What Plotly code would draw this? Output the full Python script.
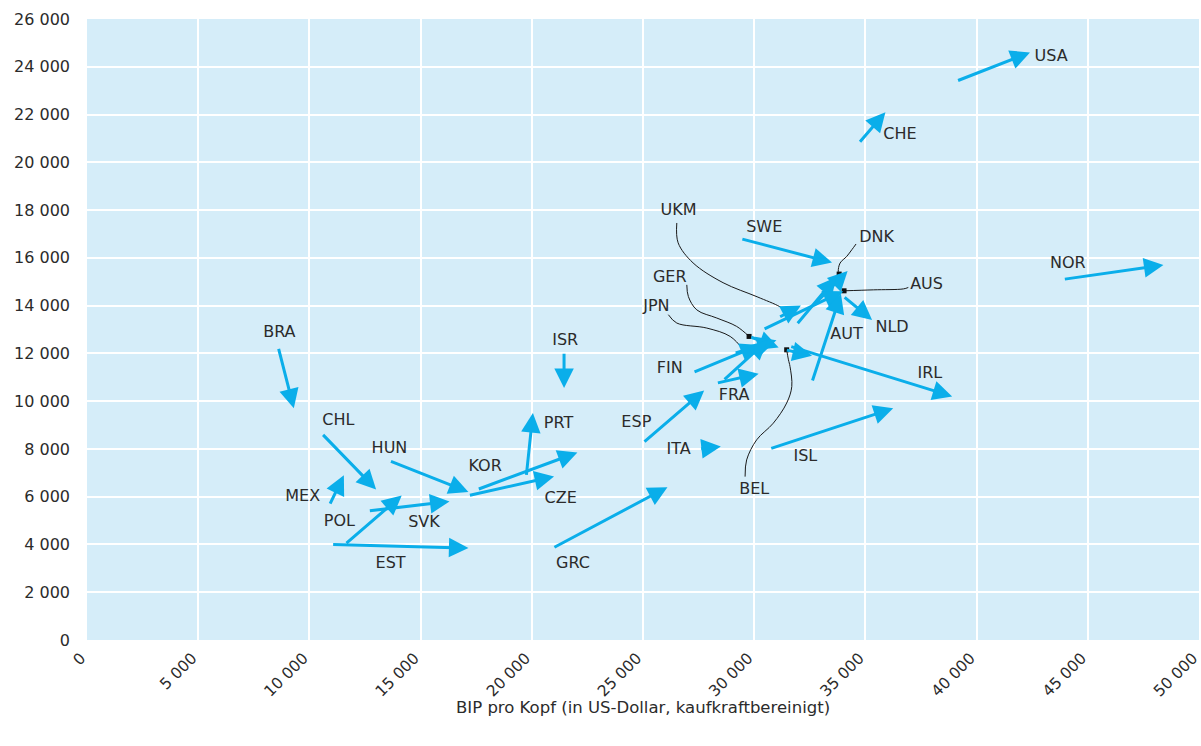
import plotly.graph_objects as go

# ---------- data (values in US-Dollar) ----------
countries = ["USA", "CHE", "NOR", "SWE", "DNK", "", "AUS", "NLD", "AUT", "IRL",
             "BEL", "UKM", "GER", "JPN", "FIN", "FRA", "", "ISL", "ITA", "ESP",
             "GRC", "PRT", "KOR", "CZE", "HUN", "CHL", "MEX", "SVK", "POL",
             "EST", "BRA", "ISR"]
gdp_start = [39100, 34700, 43900, 29400, 32600, 31900, 30400, 34000, 32600, 31600,
             31400, 31100, 29800, 29100, 27250, 28300, 28600, 30700, 27550, 25000,
             20950, 19750, 17550, 17150, 13600, 10550, 10900, 12650, 11600,
             11000, 8600, 21450]
val_start = [23400, 20800, 15100, 16800, 13950, 13200, 13000, 14400, 10800, 12300,
             12150, 13500, 12700, 12000, 11200, 10750, 10850, 8000, 8000, 8250,
             3850, 6850, 6300, 6050, 7500, 8650, 5650, 5400, 4000,
             4000, 12250, 12050]
gdp_end = [42400, 35900, 48400, 33500, 34200, 33700, 34000, 35300, 33900, 38900,
           32600, 32100, 31100, 31000, 30250, 30200, 30600, 36250, 28500, 27750,
           26100, 20050, 22050, 21000, 17150, 13000, 11550, 16300, 14150,
           17150, 9300, 21450]
val_end = [24600, 22100, 15700, 15800, 15450, 15200, 14600, 13400, 14500, 10200,
           11900, 14000, 12250, 12550, 12350, 11150, 12550, 9700, 8100, 10450,
           6400, 9500, 7850, 6850, 6200, 6300, 6900, 5800, 6050,
           3850, 9700, 10550]

# label anchor points
label_names = ["USA", "CHE", "NOR", "SWE", "UKM", "DNK", "AUS", "NLD", "AUT", "GER",
               "JPN", "FIN", "FRA", "IRL", "BEL", "ISL", "ITA", "ESP", "ISR", "PRT",
               "KOR", "CZE", "HUN", "CHL", "MEX", "POL", "SVK", "EST", "GRC", "BRA"]
label_x = [43350, 36550, 44100, 30450, 26600, 35500, 37750, 36200, 34150, 26200,
           25600, 26200, 29100, 37900, 30000, 32300, 26600, 24700, 21500, 21200,
           17900, 21300, 13600, 11300, 9700, 11350, 15150, 13650, 21850, 8650]
label_y = [24400, 21150, 15750, 17250, 17950, 16850, 14850, 13050, 12750, 15150,
           13950, 11350, 10200, 11150, 6300, 7650, 7950, 9100, 12500, 9050,
           7250, 5900, 8000, 9150, 6000, 4950, 4900, 3200, 3200, 12850]

# leader lines (label -> point)
leaders = {
    "UKM": ([26520, 26580, 27250, 28600, 30130, 31160, 31520],
            [17460, 16630, 15790, 14960, 14370, 13950, 13700]),
    "GER": ([26970, 27040, 27420, 28320, 29210, 29770],
            [14870, 14380, 13820, 13480, 13130, 12710]),
    "JPN": ([26140, 26520, 27870, 28920, 29540],
            [13620, 13270, 13060, 12710, 12120]),
    "DNK": ([34580, 34390, 34160, 33860, 33780, 33820],
            [16580, 16340, 16060, 15780, 15430, 15320]),
    "AUS": ([36930, 36710, 35360, 34040],
            [14760, 14700, 14660, 14620]),
    "BEL": ([29590, 29660, 30110, 30860, 31460, 31690, 31610, 31540, 31460],
            [6840, 7540, 8380, 9080, 9920, 10610, 11450, 11730, 12150]),
}

SP = "\u00a0"  # thousands separator
x_tickvals = [0, 5000, 10000, 15000, 20000, 25000, 30000, 35000, 40000, 45000, 50000]
x_ticktext = ["0", "5" + SP + "000", "10" + SP + "000", "15" + SP + "000",
              "20" + SP + "000", "25" + SP + "000", "30" + SP + "000",
              "35" + SP + "000", "40" + SP + "000", "45" + SP + "000", "50" + SP + "000"]
y_tickvals = [0, 2000, 4000, 6000, 8000, 10000, 12000, 14000, 16000, 18000,
              20000, 22000, 24000, 26000]
y_ticktext = ["0", "2" + SP + "000", "4" + SP + "000", "6" + SP + "000",
              "8" + SP + "000", "10" + SP + "000", "12" + SP + "000", "14" + SP + "000",
              "16" + SP + "000", "18" + SP + "000", "20" + SP + "000", "22" + SP + "000",
              "24" + SP + "000", "26" + SP + "000"]
x_title = "BIP pro Kopf (in US-Dollar, kaufkraftbereinigt)"

# ---------- styles ----------
CYAN = "#0aaeea"
BG = "#d5edf9"
TXT = "#2b2b2b"
FONT = "DejaVu Sans"

fig = go.Figure()

# leader lines
for name, (lx, ly) in leaders.items():
    fig.add_trace(go.Scatter(x=lx, y=ly, mode="lines",
                             line=dict(color="#1a1a1a", width=1, shape="spline", smoothing=1.0),
                             hoverinfo="skip", showlegend=False))
    fig.add_trace(go.Scatter(x=[lx[-1]], y=[ly[-1]], mode="markers",
                             marker=dict(color="#111111", size=5, symbol="square"),
                             hoverinfo="skip", showlegend=False))

# labels
fig.add_trace(go.Scatter(x=label_x, y=label_y, mode="text", text=label_names,
                         textposition="middle center",
                         textfont=dict(family=FONT, size=16, color=TXT),
                         hoverinfo="skip", showlegend=False))

# arrows
annotations = []
for c, x0, y0, x1, y1 in zip(countries, gdp_start, val_start, gdp_end, val_end):
    annotations.append(dict(
        x=x1, y=y1, ax=x0, ay=y0, xref="x", yref="y", axref="x", ayref="y",
        text="", showarrow=True, arrowhead=2, arrowsize=1.3, arrowwidth=3,
        arrowcolor=CYAN, standoff=0, startstandoff=0))

# x-axis title
annotations.append(dict(text=x_title, xref="paper", yref="paper", x=0.5, y=-0.1095,
                        xanchor="center", yanchor="middle", showarrow=False,
                        font=dict(family=FONT, size=16.5, color=TXT)))

fig.update_layout(
    width=1201, height=746,
    margin=dict(l=87, r=2, t=19, b=106),
    paper_bgcolor="white", plot_bgcolor=BG,
    font=dict(family=FONT, color=TXT, size=16),
    annotations=annotations,
    showlegend=False,
    xaxis=dict(range=[0, 50000], tickvals=x_tickvals, ticktext=x_ticktext,
               tickangle=-45, showgrid=True, gridcolor="white", gridwidth=2,
               zeroline=False, showline=False, ticks="", automargin=False,
               ticklabeloverflow="allow", ticklabelstandoff=5, ticklabelshift=-6,
               tickfont=dict(family=FONT, size=15.5, color=TXT)),
    yaxis=dict(range=[0, 26000], tickvals=y_tickvals, ticktext=y_ticktext,
               showgrid=True, gridcolor="white", gridwidth=2, automargin=False,
               zeroline=False, showline=False, ticks="", ticklabelstandoff=16,
               ticklabeloverflow="allow",
               tickfont=dict(family=FONT, size=16, color=TXT)),
)

# remove the default page margin so the 1201x746 figure fills the window exactly
fig.write_html("out.html",
               config={"displayModeBar": False},
               post_script="document.body.style.margin='0';document.body.style.overflow='hidden';")
